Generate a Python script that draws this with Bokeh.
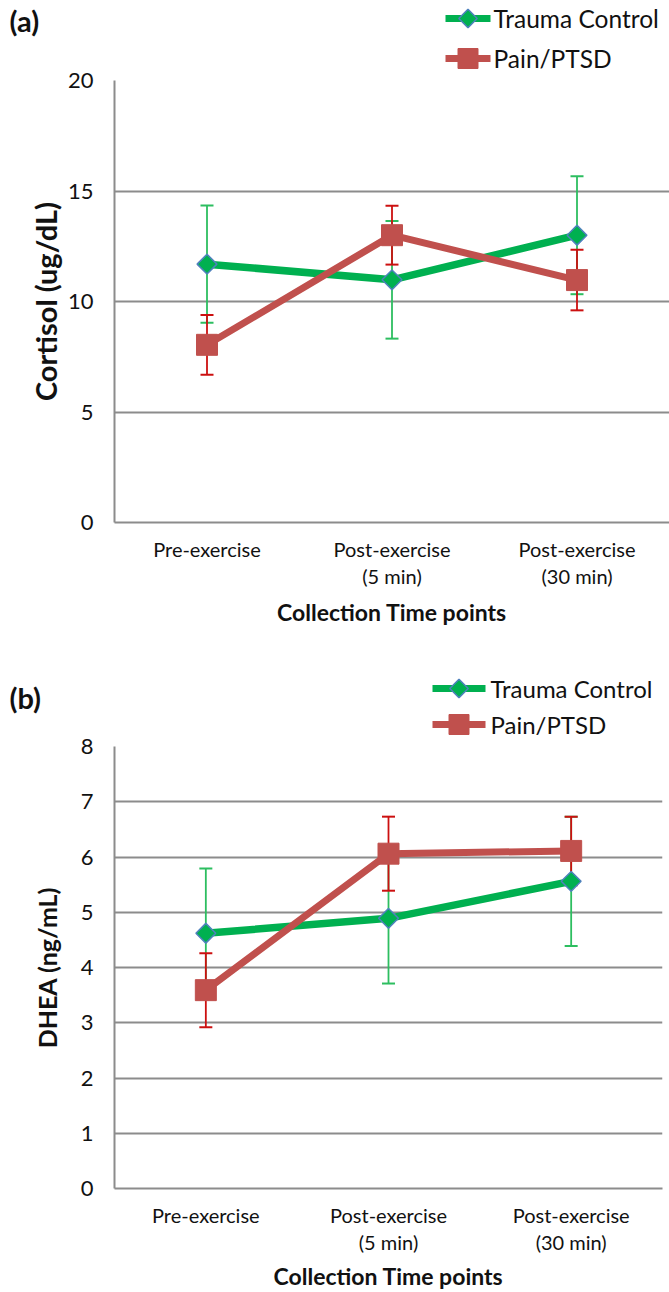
from bokeh.plotting import figure
from bokeh.models import (Range1d, Whisker, ColumnDataSource,
                          FixedTicker, TeeHead, LinearAxis)
from bokeh.layouts import column
from bokeh.embed import file_html
from bokeh.resources import INLINE
from bokeh.core.properties import value

categories = ["Pre-exercise", "Post-exercise (5 min)", "Post-exercise (30 min)"]
tick_line1 = ["Pre-exercise", "Post-exercise", "Post-exercise"]
tick_line2 = ["", "(5 min)", "(30 min)"]
series_names = ["Trauma Control", "Pain/PTSD"]

cortisol_ticks = [0, 5, 10, 15, 20]
cortisol_trauma = [11.69, 10.98, 13.00]
cortisol_trauma_err = [2.65, 2.66, 2.67]
cortisol_pain = [8.04, 13.00, 10.97]
cortisol_pain_err = [1.35, 1.33, 1.37]

dhea_ticks = [0, 1, 2, 3, 4, 5, 6, 7, 8]
dhea_trauma = [4.62, 4.89, 5.56]
dhea_trauma_err = [1.17, 1.18, 1.17]
dhea_pain = [3.59, 6.06, 6.11]
dhea_pain_err = [0.67, 0.67, 0.62]

FONT = "Lato"
TXT = "#111111"
GRID = "#8c8c8c"
GREEN = "#00B050"
GREEN_ERR = "#2DBE60"
BLUE_EDGE = "#4F81BD"
RED = "#C0504D"
RED_ERR = "#CC1010"
W = 669
OVERLAP = 14

# category centres on a numeric axis: one unit per category
cat_x = [i + 0.5 for i in range(len(categories))]


def header(tag, height, tag_y, leg_x0, leg_x1, row_ys, text_x, font_size):
    h = figure(width=W, height=height, x_range=Range1d(0, W), y_range=Range1d(height, 0),
               output_backend="svg", toolbar_location=None,
               min_border_left=0, min_border_right=0, min_border_top=0, min_border_bottom=0,
               margin=(0, 0, -OVERLAP, 0))
    h.frame_align = False
    h.axis.visible = False
    h.grid.visible = False
    h.outline_line_color = None
    h.background_fill_color = None
    h.border_fill_color = None
    xm = (leg_x0 + leg_x1) / 2
    h.segment(x0=[leg_x0], y0=[row_ys[0]], x1=[leg_x1], y1=[row_ys[0]],
              line_color=GREEN, line_width=7)
    h.scatter(x=[xm], y=[row_ys[0]], marker="square", angle=0.785398, size=13,
              fill_color=GREEN, line_color=BLUE_EDGE, line_width=1.5)
    h.segment(x0=[leg_x0], y0=[row_ys[1]], x1=[leg_x1], y1=[row_ys[1]],
              line_color=RED, line_width=7)
    h.scatter(x=[xm], y=[row_ys[1]], marker="square", size=20,
              fill_color=RED, line_color=RED)
    h.text(x=[text_x, text_x], y=row_ys, text=series_names,
           text_font=value(FONT), text_font_size=font_size, text_color=TXT,
           text_baseline="middle", text_align="left")
    h.text(x=[9], y=[tag_y], text=[tag], text_font=value(FONT), text_font_style="bold",
           text_font_size="29px", text_color=TXT, text_baseline="middle", text_align="left")
    return h


def panel(ytitle, ytitle_size, ymax, ticks, trauma, trauma_err, pain, pain_err,
          height, top, bottom, right, ylab_standoff, s1, s2, s3):
    p = figure(width=W, height=height,
               x_range=Range1d(0, len(categories)),
               y_range=Range1d(0, ymax),
               output_backend="svg", toolbar_location=None,
               min_border_left=114, min_border_right=right,
               min_border_top=top, min_border_bottom=bottom)
    p.frame_align = False
    p.outline_line_color = None
    p.border_fill_color = None

    p.xgrid.grid_line_color = None
    p.yaxis.ticker = FixedTicker(ticks=ticks)
    p.xaxis.ticker = FixedTicker(ticks=cat_x)
    p.ygrid.grid_line_color = GRID
    p.ygrid.grid_line_width = 2

    ax2 = LinearAxis(ticker=FixedTicker(ticks=cat_x))
    p.add_layout(ax2, "below")

    for ax in (p.xaxis[0], ax2, p.yaxis[0]):
        ax.axis_line_color = GRID
        ax.axis_line_width = 2
        ax.major_tick_line_color = None
        ax.minor_tick_line_color = None
        ax.major_tick_out = 0
        ax.major_tick_in = 0
        ax.minor_tick_out = 0
        ax.minor_tick_in = 0
        ax.major_label_text_font = FONT
        ax.major_label_text_color = TXT
        ax.axis_label_text_font = FONT
        ax.axis_label_text_font_style = "bold"
        ax.axis_label_text_color = TXT

    p.yaxis.major_label_text_font_size = "22px"
    p.yaxis.major_label_standoff = 21
    p.yaxis.axis_label = ytitle
    p.yaxis.axis_label_text_font_size = ytitle_size
    p.yaxis.axis_label_standoff = ylab_standoff

    ax1 = p.xaxis[0]
    ax1.major_label_overrides = dict(zip(cat_x, tick_line1))
    ax1.major_label_text_font_size = "20px"
    ax1.major_label_standoff = s1

    ax2.axis_line_color = None
    ax2.major_label_overrides = dict(zip(cat_x, tick_line2))
    ax2.major_label_text_font_size = "20px"
    ax2.major_label_standoff = s2
    ax2.axis_label = "Collection Time points"
    ax2.axis_label_text_font_size = "23px"
    ax2.axis_label_standoff = s3

    src_t = ColumnDataSource(dict(x=cat_x, y=trauma,
                                  lo=[v - e for v, e in zip(trauma, trauma_err)],
                                  hi=[v + e for v, e in zip(trauma, trauma_err)]))
    src_p = ColumnDataSource(dict(x=cat_x, y=pain,
                                  lo=[v - e for v, e in zip(pain, pain_err)],
                                  hi=[v + e for v, e in zip(pain, pain_err)]))

    for src, col in ((src_t, GREEN_ERR), (src_p, RED_ERR)):
        p.add_layout(Whisker(base="x", lower="lo", upper="hi", source=src,
                             line_color=col, line_width=1.8,
                             upper_head=TeeHead(size=13, line_color=col, line_width=2),
                             lower_head=TeeHead(size=13, line_color=col, line_width=2)))

    p.line("x", "y", source=src_t, line_color=GREEN, line_width=7.5)
    p.scatter("x", "y", source=src_t, marker="square", angle=0.785398, size=14,
              fill_color=GREEN, line_color=BLUE_EDGE, line_width=1.5)
    p.line("x", "y", source=src_p, line_color=RED, line_width=7)
    p.scatter("x", "y", source=src_p, marker="square", size=21,
              fill_color=RED, line_color=RED, line_width=1)
    return p


# panel (a): header 0..80 overlapping the plot by 14px; frame 80..522
ha = header("(a)", 80, 20, 445, 490, [18, 58], 493, "24.5px")
pa = panel("Cortisol (ug/dL)", "29px", 20, cortisol_ticks,
           cortisol_trauma, cortisol_trauma_err, cortisol_pain, cortisol_pain_err,
           height=584, top=14, bottom=128, right=0, ylab_standoff=2, s1=14, s2=0, s3=7)

# panel (b): header 650..740 overlapping by 14px; frame 746..1189
hb = header("(b)", 90, 47, 432, 485, [38, 74], 490, "24px")
pb = panel("DHEA (ng/mL)", "25px", 8, dhea_ticks,
           dhea_trauma, dhea_trauma_err, dhea_pain, dhea_pain_err,
           height=566, top=20, bottom=103, right=7, ylab_standoff=16, s1=14, s2=0, s3=5)

layout = column(ha, pa, hb, pb, spacing=0)
open("out.html", "w").write(file_html(layout, INLINE))
